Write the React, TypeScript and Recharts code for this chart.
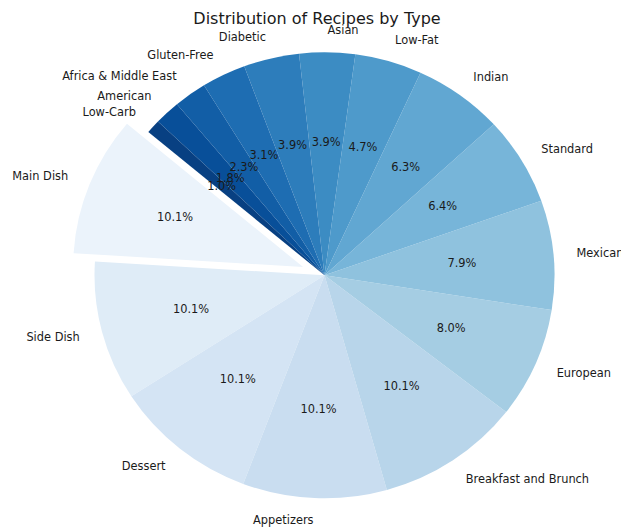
import React from 'react';
import { PieChart, Pie, Cell } from 'recharts';

// ---- data ----
const categories: string[] = [
  'Main Dish',
  'Side Dish',
  'Dessert',
  'Appetizers',
  'Breakfast and Brunch',
  'European',
  'Mexican',
  'Standard',
  'Indian',
  'Low-Fat',
  'Asian',
  'Diabetic',
  'Gluten-Free',
  'Africa & Middle East',
  'American',
  'Low-Carb',
];
const shares: number[] = [10.1, 10.1, 10.1, 10.1, 10.1, 8.0, 7.9, 6.4, 6.3, 4.7, 3.9, 3.9, 3.1, 2.3, 1.8, 1.0];
const explodedIndex = 0;
const titleText = 'Distribution of Recipes by Type';

// ---- layout ----
const W = 621;
const H = 530;
const CX = 324.5;
const CY = 275.3;
const RX = 230;
const RY = 223;
const EXPLODE = 0.1;
const START = 140;
const FONT = '"DejaVu Sans", Verdana, sans-serif';

const BLUES = [
  [247, 251, 255],
  [222, 235, 247],
  [198, 219, 239],
  [158, 202, 225],
  [107, 174, 214],
  [66, 146, 198],
  [33, 113, 181],
  [8, 81, 156],
  [8, 48, 107],
];
function blues(t: number): string {
  const s = Math.max(0, Math.min(1, t)) * 8;
  const i = Math.min(7, Math.floor(s));
  const f = s - i;
  const a = BLUES[i];
  const b = BLUES[i + 1];
  const c = a.map((v, k) => Math.round(v + (b[k] - v) * f));
  return `rgb(${c[0]},${c[1]},${c[2]})`;
}
const colors = categories.map((_, i) => blues((i + 1) / (categories.length + 1)));

const data = categories.map((name, i) => ({ name, value: shares[i] }));

// exploded wedge centre
const total = shares.reduce((a, b) => a + b, 0);
const before = shares.slice(0, explodedIndex).reduce((a, b) => a + b, 0);
const midExploded = START + ((before + shares[explodedIndex] / 2) / total) * 360;
const exRad = (midExploded * Math.PI) / 180;
const BX = CX + EXPLODE * RX * Math.cos(exRad);
const BY = CY - EXPLODE * RY * Math.sin(exRad);
const SY = RY / RX;

const css = `
body { margin: 0; }
.sectA { transform-box: view-box; transform-origin: ${CX}px ${CY}px; transform: scaleY(${SY}); }
.sectB { transform-box: view-box; transform-origin: ${BX}px ${BY}px; transform: scaleY(${SY}); }
`;

const renderLabel = (props: any) => {
  const { midAngle, index } = props;
  const rad = (midAngle * Math.PI) / 180;
  const cos = Math.cos(rad);
  const sin = Math.sin(rad);
  const ox = index === explodedIndex ? EXPLODE * RX * cos : 0;
  const oy = index === explodedIndex ? -EXPLODE * RY * sin : 0;
  const lx = CX + ox + 1.1 * RX * cos;
  const ly = CY + oy - 1.1 * RY * sin;
  const px = CX + ox + 0.6 * RX * cos;
  const py = CY + oy - 0.6 * RY * sin;
  return (
    <g key={`lbl-${index}`}>
      <text
        x={lx}
        y={ly}
        textAnchor={cos > 0 ? 'start' : 'end'}
        dominantBaseline="central"
        fontFamily={FONT}
        fontSize={11.4}
        fill="#1a1a1a"
      >
        {categories[index]}
      </text>
      <text
        x={px}
        y={py}
        textAnchor="middle"
        dominantBaseline="central"
        fontFamily={FONT}
        fontSize={11.4}
        fill="#1a1a1a"
      >
        {`${shares[index].toFixed(1)}%`}
      </text>
    </g>
  );
};

export default function App() {
  return (
    <div style={{ position: 'relative', width: W, height: H, background: '#fff' }}>
      <style>{css}</style>
      <PieChart width={W} height={H} margin={{ top: 0, right: 0, bottom: 0, left: 0 }}>
        <Pie
          data={data}
          dataKey="value"
          nameKey="name"
          cx={CX}
          cy={CY}
          outerRadius={RX}
          startAngle={START}
          endAngle={START + 360}
          stroke="none"
          isAnimationActive={false}
          labelLine={false}
          label={renderLabel}
        >
          {data.map((d, i) => (
            <Cell
              key={`a-${d.name}`}
              className="sectA"
              fill={i === explodedIndex ? 'none' : colors[i]}
              stroke="none"
            />
          ))}
        </Pie>
        <Pie
          data={data}
          dataKey="value"
          nameKey="name"
          cx={BX}
          cy={BY}
          outerRadius={RX}
          startAngle={START}
          endAngle={START + 360}
          stroke="none"
          isAnimationActive={false}
          labelLine={false}
          label={false}
        >
          {data.map((d, i) => (
            <Cell
              key={`b-${d.name}`}
              className="sectB"
              fill={i === explodedIndex ? colors[i] : 'none'}
              stroke="none"
            />
          ))}
        </Pie>
      </PieChart>
      <svg
        width={W}
        height={40}
        style={{ position: 'absolute', left: 0, top: 0, pointerEvents: 'none' }}
      >
        <text x={317} y={24} textAnchor="middle" fontFamily={FONT} fontSize={16} fill="#1a1a1a">
          {titleText}
        </text>
      </svg>
    </div>
  );
}
